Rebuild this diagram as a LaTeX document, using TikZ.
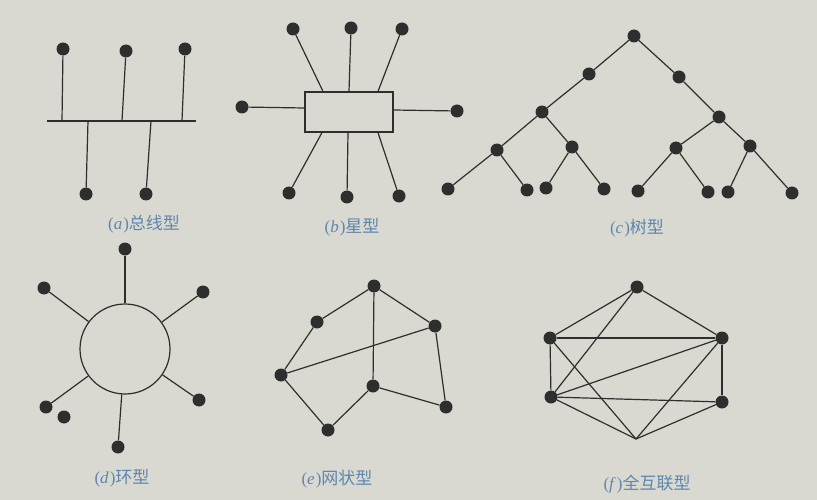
\documentclass[tikz,border=0pt]{standalone}
\usepackage{fontspec}
\newfontfamily\cjk{Noto Sans CJK SC}
\newfontfamily\latn{Liberation Serif}
\definecolor{paper}{HTML}{D9D9D2}
\definecolor{ink}{HTML}{2E2E2E}
\definecolor{cap}{HTML}{5E86AE}
\newcommand{\capt}[2]{{\latn(\textit{#1}\kern1pt)}{\cjk #2}}
\begin{document}
\begin{tikzpicture}[x=1pt,y=-1pt,
  dot/.style={circle,fill=ink,inner sep=0pt,minimum size=13pt},
  link/.style={draw=ink,line width=1.2pt},
  caption/.style={text=cap,font=\fontsize{17}{19}\selectfont,inner sep=0pt}]
\fill[paper] (0,0) rectangle (817,500);
\useasboundingbox (0,0) rectangle (817,500);

% (a) bus
\coordinate (busL) at (47,121);
\coordinate (busR) at (196,121);
\draw[link] (busL) -- (busR);
\node[dot] (a1) at (63,49) {};
\node[dot] (a2) at (126,51) {};
\node[dot] (a3) at (185,49) {};
\node[dot] (a4) at (86,194) {};
\node[dot] (a5) at (146,194) {};
\coordinate (ba1) at (62,121);
\coordinate (ba2) at (122,121);
\coordinate (ba3) at (182,121);
\coordinate (ba4) at (88,121);
\coordinate (ba5) at (151,121);
\draw[link] (a1) -- (ba1);
\draw[link] (a2) -- (ba2);
\draw[link] (a3) -- (ba3);
\draw[link] (a4) -- (ba4);
\draw[link] (a5) -- (ba5);
\node[caption] (capa) at (144,224) {\capt{a}{总线型}};

% (b) star
\node[draw=ink,line width=1.2pt,minimum width=88pt,minimum height=40pt,inner sep=0pt] (hub) at (349,112) {};
\node[dot] (b1) at (293,29) {};
\node[dot] (b2) at (351,28) {};
\node[dot] (b3) at (402,29) {};
\node[dot] (b4) at (242,107) {};
\node[dot] (b5) at (457,111) {};
\node[dot] (b6) at (289,193) {};
\node[dot] (b7) at (347,197) {};
\node[dot] (b8) at (399,196) {};
\draw[link] (b1) -- (hub.north west -| 323,0);
\draw[link] (b2) -- (hub.north -| 349,0);
\draw[link] (b3) -- (hub.north east -| 378,0);
\draw[link] (b4) -- (hub.west |- 0,108);
\draw[link] (b5) -- (hub.east |- 0,110);
\draw[link] (b6) -- (hub.south west -| 322,0);
\draw[link] (b7) -- (hub.south -| 348,0);
\draw[link] (b8) -- (hub.south east -| 378,0);
\node[caption] (capb) at (352,227) {\capt{b}{星型}};

% (c) tree
\node[dot] (r) at (634,36) {};
\node[dot] (l1) at (589,74) {};
\node[dot] (r1) at (679,77) {};
\node[dot] (l2) at (542,112) {};
\node[dot] (r2) at (719,117) {};
\node[dot] (l3a) at (497,150) {};
\node[dot] (l3b) at (572,147) {};
\node[dot] (r3a) at (676,148) {};
\node[dot] (r3b) at (750,146) {};
\node[dot] (c1) at (448,189) {};
\node[dot] (c2) at (527,190) {};
\node[dot] (c3) at (546,188) {};
\node[dot] (c4) at (604,189) {};
\node[dot] (c5) at (638,191) {};
\node[dot] (c6) at (708,192) {};
\node[dot] (c7) at (728,192) {};
\node[dot] (c8) at (792,193) {};
\draw[link] (r) -- (l1) -- (l2) -- (l3a) -- (c1);
\draw[link] (l3a) -- (c2);
\draw[link] (l2) -- (l3b) -- (c3);
\draw[link] (l3b) -- (c4);
\draw[link] (r) -- (r1) -- (r2) -- (r3a) -- (c5);
\draw[link] (r3a) -- (c6);
\draw[link] (r2) -- (r3b) -- (c8);
\draw[link] (r3b) -- (c7);
\node[caption] (capc) at (637,228) {\capt{c}{树型}};

% (d) ring
\node[draw=ink,line width=1.2pt,circle,minimum size=90pt,inner sep=0pt] (ring) at (125,349) {};
\node[dot] (d1) at (125,249) {};
\node[dot] (d2) at (44,288) {};
\node[dot] (d3) at (203,292) {};
\node[dot] (d4) at (199,400) {};
\node[dot] (d5) at (118,447) {};
\node[dot] (d6) at (46,407) {};
\node[dot] (d7) at (64,417) {};
\draw[link] (d1) -- (ring);
\draw[link] (d2) -- (ring);
\draw[link] (d3) -- (ring);
\draw[link] (d4) -- (ring);
\draw[link] (d5) -- (ring);
\draw[link] (d6) -- (ring);
\node[caption] (capd) at (122,478) {\capt{d}{环型}};

% (e) mesh
\node[dot] (eA) at (374,286) {};
\node[dot] (eB) at (317,322) {};
\node[dot] (eC) at (435,326) {};
\node[dot] (eD) at (281,375) {};
\node[dot] (eE) at (373,386) {};
\node[dot] (eF) at (446,407) {};
\node[dot] (eG) at (328,430) {};
\draw[link] (eA) -- (eB);
\draw[link] (eA) -- (eC);
\draw[link] (eA) -- (eE);
\draw[link] (eB) -- (eD);
\draw[link] (eD) -- (eC);
\draw[link] (eD) -- (eG);
\draw[link] (eG) -- (eE);
\draw[link] (eE) -- (eF);
\draw[link] (eC) -- (eF);
\node[caption] (cape) at (337,479) {\capt{e}{网状型}};

% (f) full mesh
\node[dot] (fT) at (637,287) {};
\node[dot] (fUL) at (550,338) {};
\node[dot] (fUR) at (722,338) {};
\node[dot] (fLL) at (551,397) {};
\node[dot] (fLR) at (722,402) {};
\coordinate (fB) at (636,439);
\draw[link] (fT) -- (fUL);
\draw[link] (fT) -- (fUR);
\draw[link] (fT) -- (fLL);
\draw[link] (fUL) -- (fUR);
\draw[link] (fUL) -- (fLL);
\draw[link] (fUL) -- (fB);
\draw[link] (fUR) -- (fLL);
\draw[link] (fUR) -- (fLR);
\draw[link] (fUR) -- (fB);
\draw[link] (fLL) -- (fLR);
\draw[link] (fLL) -- (fB);
\draw[link] (fLR) -- (fB);
\node[caption] (capf) at (647,484) {\capt{f}{全互联型}};
\end{tikzpicture}
\end{document}
